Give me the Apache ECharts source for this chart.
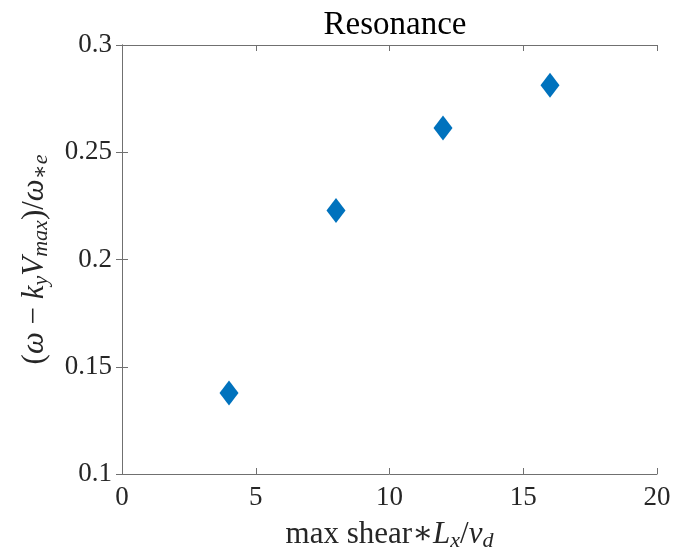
<!DOCTYPE html>
<html><head><meta charset="utf-8">
<script src="https://cdn.jsdelivr.net/npm/echarts@6/dist/echarts.min.js"></script>
<style>html,body{margin:0;padding:0;background:#fff}#c{width:686px;height:552px}</style>
</head><body><div id="c"></div>
<script>
const shear = [4, 8, 12, 16];
const freq = [0.1378, 0.2228, 0.2613, 0.2812];
const xTicks = [0, 5, 10, 15, 20];
const yTicks = [0.1, 0.15, 0.2, 0.25, 0.3];
const titleText = 'Resonance';

const F = '"Liberation Serif", "DejaVu Serif", serif';
const C = '#262626';
const AX = '#707070';
const axisCommon = {
  axisLine: {show: true, lineStyle: {color: AX, width: 1}},
  axisTick: {show: true, inside: true, length: 6, lineStyle: {color: AX}},
  splitLine: {show: false}
};
const richStyles = {
  n: {fontFamily: F, fontSize: 31, color: C},
  i: {fontFamily: F, fontSize: 31, fontStyle: 'italic', color: C},
  s: {fontFamily: F, fontSize: 22, fontStyle: 'italic', color: C, padding: [12, 0, 0, 0]}
};
const chart = echarts.init(document.getElementById('c'));
chart.setOption({
  animation: false,
  backgroundColor: '#fff',
  title: {text: titleText, left: 390, top: 4, textAlign: 'center',
    textStyle: {fontFamily: F, fontWeight: 'normal', fontSize: 33, color: '#000'}},
  grid: {left: 122, right: 29, top: 45, bottom: 78, outerBoundsMode: 'none', containLabel: false},
  xAxis: [
    Object.assign({type: 'value', min: 0, max: 20, interval: 5, position: 'bottom',
      axisLabel: {fontFamily: F, fontSize: 27, color: C, margin: 10},
      name: '{n|max shear∗}{i|L}{s|x}{n|/}{i|v}{s|d}', nameLocation: 'middle', nameGap: 44,
      nameTextStyle: {fontFamily: F, fontSize: 31, color: C, rich: richStyles}
    }, axisCommon),
    Object.assign({type: 'value', min: 0, max: 20, interval: 5, position: 'top',
      axisLabel: {show: false}}, axisCommon)
  ],
  yAxis: [
    Object.assign({type: 'value', min: 0.1, max: 0.3, interval: 0.05, position: 'left',
      axisLabel: {fontFamily: F, fontSize: 27, color: C, margin: 10,
        formatter: v => String(parseFloat(v.toFixed(3)))},
      name: '{n|(}{i|ω}{n| − }{i|k}{s|y}{i|V}{s|max}{n|)/}{i|ω}{s|∗e}', nameLocation: 'middle', nameGap: 70, nameRotate: 90,
      nameTextStyle: {fontFamily: F, fontSize: 31, color: C, rich: richStyles}
    }, axisCommon),
    Object.assign({type: 'value', min: 0.1, max: 0.3, interval: 0.05, position: 'right',
      axisLabel: {show: false}}, axisCommon)
  ],
  series: [{
    type: 'scatter',
    data: shear.map((x, i) => [x, freq[i]]),
    symbol: 'diamond',
    symbolSize: [19, 25],
    itemStyle: {color: '#0072BD', opacity: 1}
  }]
});
</script></body></html>
